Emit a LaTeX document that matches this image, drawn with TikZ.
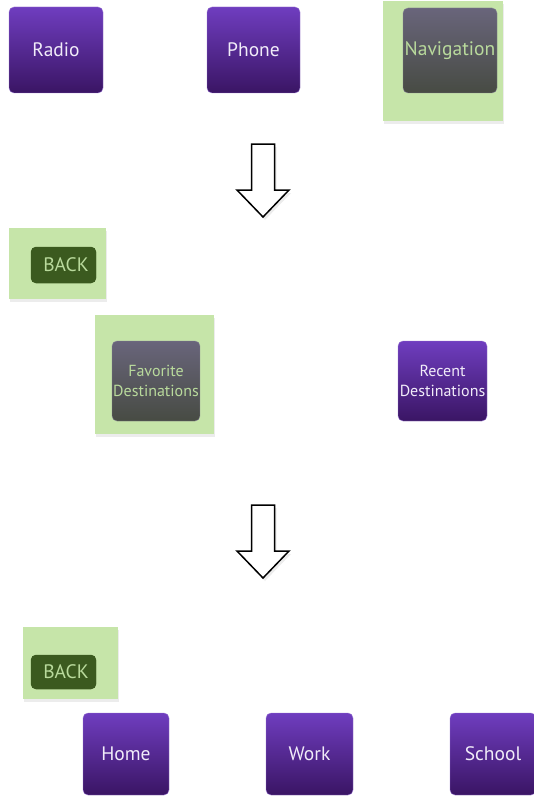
\documentclass[tikz,border=0pt]{standalone}
\usepackage{fontspec}
\setmainfont{PT Sans}
\usetikzlibrary{shadows}

\definecolor{lila}{HTML}{6F3DBF}
\definecolor{lilad}{HTML}{3A1564}
\definecolor{grau}{HTML}{69657B}
\definecolor{graud}{HTML}{474B43}
\definecolor{hell}{HTML}{C6E5A9}
\definecolor{dunkel}{HTML}{3B5A1F}
\definecolor{schrift}{HTML}{B9DA9C}

\begin{document}
\begin{tikzpicture}[x=1pt,y=-1pt,
	knopf/.style={rounded corners=5pt,top color=lila,bottom color=lilad,draw=lila!70,
		text=white!90!lila,align=center,inner sep=0pt,font=\fontsize{19.5}{21}\selectfont},
	klein/.style={font=\fontsize{16}{19.5}\selectfont},
	aktiv/.style={knopf,top color=grau,bottom color=graud,draw=grau!80,text=schrift},
	feld/.style={fill=hell,draw=none,drop shadow={shadow xshift=1pt,shadow yshift=-3pt,opacity=0.15}},
	zurueck/.style={knopf,fill=dunkel,draw=dunkel,text=schrift,shading=,top color=dunkel,bottom color=dunkel}]

\useasboundingbox (0,0) rectangle (534,797);

\def\pfeil#1#2{
	\draw[fill=white,line width=1.5pt,drop shadow={shadow xshift=2pt,shadow yshift=-3pt,opacity=0.15}]
		({#1-11.5},{#2}) -- ({#1+11.5},{#2}) -- ({#1+11.5},{#2+46}) -- ({#1+26},{#2+46})
		-- ({#1},{#2+73}) -- ({#1-26},{#2+46}) -- ({#1-11.5},{#2+46}) -- cycle;
}

% main menu
\node[knopf,minimum width=94pt,minimum height=86pt] (radio) at (56,50) {Radio};
\node[knopf,minimum width=93pt,minimum height=86pt] (phone) at (253.5,50) {Phone};
\node[feld,minimum width=120pt,minimum height=120pt] (navfeld) at (443,61) {};
\node[aktiv,minimum width=94pt,minimum height=85pt] (nav) at (450,50.5) {Navigation};

\pfeil{263}{144}

% navigation menu
\node[feld,minimum width=97pt,minimum height=71pt] (backfeld) at (57.5,263.5) {};
\node[zurueck,minimum width=65pt,minimum height=36pt] (back) at (63.5,265) {\hspace{5pt}BACK};
\node[feld,minimum width=119pt,minimum height=119pt] (favfeld) at (154.5,374.5) {};
\node[aktiv,klein,minimum width=88pt,minimum height=80pt] (fav) at (156,381) {Favorite\\Destinations};
\node[knopf,klein,minimum width=89pt,minimum height=80pt] (recent) at (442.5,381) {Recent\\Destinations};

\pfeil{263}{505}

% favorites
\node[feld,minimum width=95pt,minimum height=72pt] (backfeld2) at (70.5,663) {};
\node[zurueck,minimum width=65pt,minimum height=34pt] (back2) at (63.5,672) {\hspace{5pt}BACK};
\node[knopf,minimum width=86pt,minimum height=82pt] (home) at (126,754) {Home};
\node[knopf,minimum width=87pt,minimum height=82pt] (work) at (309.5,754) {Work};
\node[knopf,minimum width=86pt,minimum height=82pt] (school) at (493,754) {School};

\end{tikzpicture}
\end{document}
